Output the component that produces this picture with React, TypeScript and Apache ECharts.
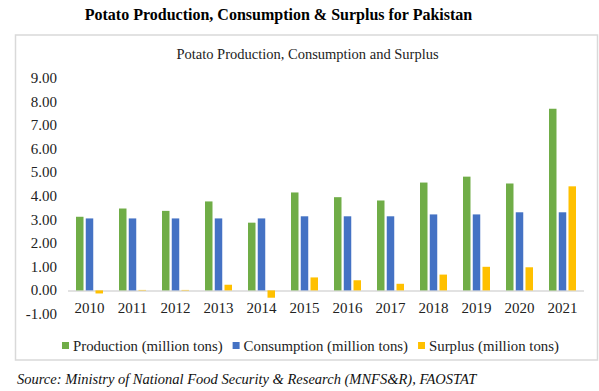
import React, { useEffect, useRef } from "react";
import * as echarts from "echarts";

const years = ["2010", "2011", "2012", "2013", "2014", "2015", "2016", "2017", "2018", "2019", "2020", "2021"];
const production = [3.12, 3.47, 3.37, 3.77, 2.87, 4.15, 3.95, 3.81, 4.57, 4.82, 4.53, 7.7];
const consumption = [3.05, 3.05, 3.05, 3.05, 3.05, 3.14, 3.14, 3.14, 3.22, 3.22, 3.31, 3.31];
const surplus = [-0.13, 0.02, 0.02, 0.24, -0.31, 0.55, 0.43, 0.28, 0.67, 1.0, 0.98, 4.41];
const seriesNames = ["Production (million tons)", "Consumption (million tons)", "Surplus (million tons)"];
const colors = ["#70AD47", "#4472C4", "#FFC000"];

const FONT = "'Liberation Serif', 'Times New Roman', serif";

export default function App() {
  const ref = useRef<HTMLDivElement>(null);
  useEffect(() => {
    document.body.style.margin = "0";
    const chart = echarts.init(ref.current!, null, { renderer: "svg" });
    const dataSets = [production, consumption, surplus];
    chart.setOption({
      animation: false,
      backgroundColor: "#ffffff",
      textStyle: { fontFamily: FONT },
      graphic: [
        {
          type: "rect",
          shape: { x: 15.5, y: 35, width: 582, height: 325 },
          style: { fill: "none", stroke: "#d9d9d9", lineWidth: 1.5 },
          silent: true,
        },
        {
          type: "text",
          x: 278.5,
          y: 14,
          style: {
            text: "Potato Production, Consumption & Surplus for Pakistan",
            font: `bold 16px ${FONT}`,
            fill: "#000",
            textAlign: "center",
            textVerticalAlign: "middle",
          },
        },
        {
          type: "text",
          x: 307.5,
          y: 54,
          style: {
            text: "Potato Production, Consumption and Surplus",
            font: `14.5px ${FONT}`,
            fill: "#222",
            textAlign: "center",
            textVerticalAlign: "middle",
          },
        },
        {
          type: "text",
          x: 17,
          y: 379,
          style: {
            text: "Source: Ministry of National Food Security & Research (MNFS&R), FAOSTAT",
            font: `italic 14.5px ${FONT}`,
            fill: "#111",
            textAlign: "left",
            textVerticalAlign: "middle",
          },
        },
      ],
      legend: {
        data: seriesNames,
        left: 57,
        top: 333,
        icon: "rect",
        itemWidth: 7,
        itemHeight: 7,
        itemGap: 10,
        textStyle: { fontFamily: FONT, fontSize: 14.8, color: "#222", padding: [0, 0, 0, -1] },
      },
      grid: { left: 68, right: 15, top: 78, bottom: 77 },
      xAxis: {
        type: "category",
        data: years,
        axisLine: { show: false, onZero: false },
        axisTick: { show: false },
        axisLabel: { fontFamily: FONT, fontSize: 15, color: "#222", margin: -14 },
      },
      yAxis: {
        type: "value",
        min: -1,
        max: 9,
        interval: 1,
        axisLine: { show: false },
        axisTick: { show: false },
        splitLine: { show: false },
        axisLabel: {
          fontFamily: FONT,
          fontSize: 15,
          color: "#222",
          margin: 11,
          formatter: (v: number) => v.toFixed(2),
        },
      },
      series: seriesNames.map((name, i) => ({
        name,
        type: "bar",
        data: dataSets[i],
        barWidth: 7.5,
        barGap: "30%",
        itemStyle: { color: colors[i] },
        z: 3,
        markLine:
          i === 0
            ? {
                silent: true,
                symbol: "none",
                label: { show: false },
                lineStyle: { color: "#d9d9d9", width: 1.5, type: "solid" },
                data: [{ yAxis: 0 }],
                z: 1,
              }
            : undefined,
      })),
    });
    return () => chart.dispose();
  }, []);
  return <div ref={ref} style={{ width: 599, height: 391, position: "absolute", left: 0, top: 0 }} />;
}
